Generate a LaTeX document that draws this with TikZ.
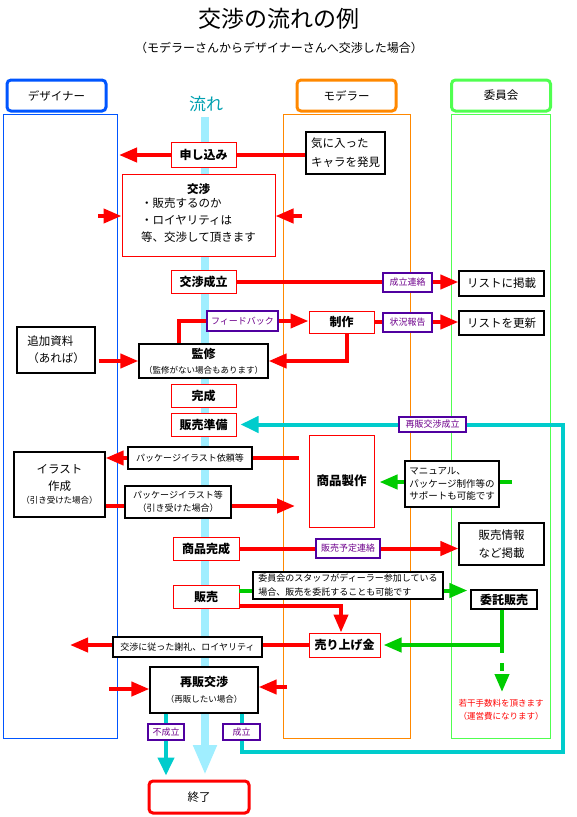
\documentclass[tikz,border=0pt]{standalone}
\usepackage{fontspec}
\setmainfont{Noto Sans CJK JP}
\usetikzlibrary{arrows.meta}
\definecolor{myred}{RGB}{255,0,0}
\definecolor{mygreen}{RGB}{0,204,0}
\definecolor{mycyan}{RGB}{0,204,204}
\definecolor{flowcyan}{RGB}{160,238,255}
\definecolor{flowtext}{RGB}{0,160,176}
\definecolor{laneblue}{RGB}{0,85,255}
\definecolor{laneorange}{RGB}{255,136,0}
\definecolor{lanegreen}{RGB}{80,255,80}
\definecolor{lblborder}{RGB}{80,0,160}
\definecolor{lbltext}{RGB}{110,0,140}
\begin{document}
\begin{tikzpicture}[x=1pt, y=-1pt,
  sz/.style 2 args={minimum width=#1pt, minimum height=#2pt},
  redbox/.style={draw=myred, line width=1pt, fill=white, inner sep=1pt, align=center, font=\fontsize{12}{15}\selectfont\bfseries},
  blackbox/.style={draw=black, line width=1.2pt, fill=white, inner sep=1pt, font=\fontsize{11.5}{17}\selectfont},
  lblbox/.style={draw=lblborder, line width=1.2pt, fill=white, inner sep=1pt, text=lbltext, font=\fontsize{9}{11}\selectfont},
  notebox/.style={draw=black, line width=1.2pt, fill=white, inner sep=1pt, font=\fontsize{9}{13}\selectfont},
  header/.style={line width=3pt, rounded corners=4pt, sz={99}{31}, font=\fontsize{11.5}{14}\selectfont},
  lane/.style={line width=1pt},
  redline/.style={draw=myred, line width=4pt},
  redarrow/.style={redline, -{Triangle[length=18pt,width=14pt]}},
  greenline/.style={draw=mygreen, line width=4pt},
  greenarrow/.style={greenline, -{Triangle[length=18pt,width=14pt]}},
  cyanline/.style={draw=mycyan, line width=4pt},
  cyanarrow/.style={cyanline, -{Triangle[length=18pt,width=16pt]}},
  flowbar/.style={draw=flowcyan, line width=8pt, -{Triangle[length=30pt,width=22pt]}}]
\useasboundingbox (0,0) rectangle (576,817);

\node[font=\fontsize{23}{25}\selectfont] (title) at (279,19) {交渉の流れの例};
\node[font=\fontsize{12}{14}\selectfont] (subtitle) at (279,48) {（モデラーさんからデザイナーさんへ交渉した場合）};

\node[header, draw=laneblue] (hdes) at (56.5,95.5) {デザイナー};
\node[header, draw=laneorange] (hmod) at (346.5,95.5) {モデラー};
\node[header, draw=lanegreen] (hiin) at (501,95.5) {委員会};
\node[text=flowtext, font=\fontsize{17}{19}\selectfont] (flowlbl) at (206,104) {流れ};

\draw[lane, draw=laneblue] (3,114) rectangle (117,738);
\draw[lane, draw=laneorange] (283,114) rectangle (410,738);
\draw[lane, draw=lanegreen] (451,114) rectangle (550,738);

\coordinate (flowTop) at (205,117);
\coordinate (flowEnd) at (205,775);
\draw[flowbar] (flowTop) -- (flowEnd);

\node[redbox, sz={65}{25}] (moushikomi) at (203.5,155) {申し込み};
\node[blackbox, sz={79}{42}, align=left, font=\fontsize{11.5}{19}\selectfont] (kiniitta) at (345.5,153) {気に入った\\キャラを発見};
\node[redbox, sz={153}{82}, font=\fontsize{11.5}{17}\selectfont] (koushou) at (198.5,215)
  {{\bfseries 交渉}\\\begin{tabular}{@{}l@{}}・販売するのか\\・ロイヤリティは\\等、交渉して頂きます\end{tabular}};
\node[redbox, sz={65}{23}] (seiritsu) at (203.5,282) {交渉成立};
\node[lblbox, sz={49}{19}] (lblSeiritsu) at (407.5,282.5) {成立連絡};
\node[blackbox, sz={85}{25}] (listKeisai) at (501.5,283.5) {リストに掲載};
\node[lblbox, sz={71}{20}] (lblFeedback) at (242.5,321) {フィードバック};
\node[redbox, sz={65}{22}] (seisaku) at (341.5,322) {制作};
\node[lblbox, sz={49}{19}] (lblJoukyou) at (407.5,322.5) {状況報告};
\node[blackbox, sz={85}{24}] (listKoushin) at (501.5,323) {リストを更新};
\node[blackbox, sz={129}{34}, align=center, font=\fontsize{8.5}{15}\selectfont] (kanshu) at (203.5,361)
  {{\fontsize{12}{15}\selectfont\bfseries 監修}\\（監修がない場合もあります）};
\node[blackbox, sz={78}{46}, align=left] (tsuika) at (56,350) {追加資料\\（あれば）};
\node[redbox, sz={65}{23}] (kansei) at (203.5,395.5) {完成};
\node[redbox, sz={65}{23}] (junbi) at (203.5,424.5) {販売準備};
\node[lblbox, sz={67}{15}] (lblSaihan) at (432.5,424.5) {再販交渉成立};
\node[notebox, sz={124}{22}] (lblIrai) at (190,458) {パッケージイラスト依頼等};
\node[blackbox, sz={91}{65}, align=center] (illust) at (59.5,484.5)
  {イラスト\\作成\\[-4pt]{\fontsize{8.5}{10}\selectfont （引き受けた場合）}};
\node[notebox, sz={106}{32}, align=center] (lblPkg) at (178,502) {パッケージイラスト等\\（引き受けた場合）};
\node[redbox, sz={65}{92}, font=\fontsize{12.5}{15}\selectfont\bfseries] (seihin) at (341.5,481) {商品製作};
\coordinate (gm) at (512,482);
\draw[greenarrow, shorten >=5pt] (gm) -- (seihin.east |- gm);
\node[notebox, sz={94}{46}, align=left, font=\fontsize{9.5}{12.5}\selectfont] (manual) at (452,484)
  {マニュアル、\\パッケージ制作等の\\サポートも可能です};
\node[redbox, sz={66}{23}] (hinkansei) at (206,548.5) {商品完成};
\node[lblbox, sz={64}{19}] (lblYotei) at (348,548.5) {販売予定連絡};
\node[blackbox, sz={85}{42}, align=center, font=\fontsize{11.5}{18}\selectfont] (hanbaiJouhou) at (501.5,544) {販売情報\\など掲載};
\node[redbox, sz={66}{23}] (hanbai) at (206,596.5) {販売};
\node[notebox, sz={190}{27}, align=left, font=\fontsize{9}{14}\selectfont] (staff) at (348,585.5)
  {委員会のスタッフがディーラー参加している\\場合、販売を委託することも可能です};
\node[blackbox, sz={66}{19}, font=\fontsize{12}{15}\selectfont\bfseries] (itaku) at (504,599.5) {委託販売};
\node[redbox, sz={71}{24}] (uriage) at (344.5,645) {売り上げ金};
\node[notebox, sz={149}{20}] (lblSharei) at (187.5,647) {交渉に従った謝礼、ロイヤリティ};
\node[blackbox, sz={108}{46}, align=center, font=\fontsize{8.5}{16}\selectfont] (saihan) at (204,690)
  {{\fontsize{12}{15}\selectfont\bfseries 再販交渉}\\（再販したい場合）};
\node[lblbox, sz={36}{16}] (lblFuseiritsu) at (166,732) {不成立};
\node[lblbox, sz={37}{16}] (lblSeiritsu2) at (241.5,732) {成立};
\node[draw=myred, line width=3pt, rounded corners=4pt, sz={100}{32}, font=\fontsize{11.5}{14}\selectfont] (shuryo) at (199,797) {終了};
\node[text=myred, align=center, font=\fontsize{8.5}{13}\selectfont] (fee) at (501,710) {若干手数料を頂きます\\（運営費になります）};

\draw[redline] (kiniitta.west |- moushikomi.east) -- (moushikomi.east);
\coordinate (mTip) at (119,155);
\draw[redarrow] (moushikomi.west) -- (mTip);
\coordinate (inL) at (98,216);
\coordinate (inR) at (302,216);
\draw[redarrow] (inL) -- (koushou.west |- inL);
\draw[redarrow] (inR) -- (koushou.east |- inR);
\draw[redline] (seiritsu.east) -- (lblSeiritsu.west |- seiritsu.east);
\draw[redarrow] (lblSeiritsu.east |- seiritsu.east) -- (listKeisai.west |- seiritsu.east);
\draw[redline] ([xshift=-24.5pt]kanshu.north) |- (lblFeedback.west);
\draw[redarrow] (lblFeedback.east) -- (seisaku.west |- lblFeedback.east);
\draw[redline] (seisaku.east) -- (lblJoukyou.west |- seisaku.east);
\draw[redarrow] (lblJoukyou.east |- seisaku.east) -- (listKoushin.west |- seisaku.east);
\draw[redarrow] ([xshift=5.5pt]seisaku.south) |- (kanshu.east);
\draw[redarrow] ([xshift=3pt]tsuika.east |- kanshu.west) -- (kanshu.west);

\coordinate (cBR) at (563,752);
\coordinate (cTR) at (563,424.5);
\draw[cyanline] (saihan.south -| lblSeiritsu2) -- (lblSeiritsu2.north);
\draw[cyanline] (lblSeiritsu2.south) |- (cBR) -- (cTR) -- (lblSaihan.east |- cTR);
\draw[cyanarrow, shorten >=4pt] (lblSaihan.west |- cTR) -- (junbi.east |- cTR);
\draw[cyanline] (saihan.south -| lblFuseiritsu) -- (lblFuseiritsu.north);
\draw[cyanarrow, shorten >=4pt] (lblFuseiritsu.south) -- (shuryo.north -| lblFuseiritsu.south);

\coordinate (iraiR) at (299,458);
\draw[redline] (iraiR) -- (lblIrai.east);
\draw[redarrow] (lblIrai.west) -- (illust.east |- lblIrai.west);
\coordinate (pk) at (178,506);
\coordinate (pkTip) at (295,506);
\draw[redline] (illust.east |- pk) -- (lblPkg.west |- pk);
\draw[redarrow] (lblPkg.east |- pk) -- (pkTip);

\draw[redline] (hinkansei.east) -- (lblYotei.west |- hinkansei.east);
\draw[redarrow] (lblYotei.east |- hinkansei.east) -- (hanbaiJouhou.west |- hinkansei.east);

\coordinate (g1) at (239,590.5);
\draw[greenline] (g1) -- (staff.west |- g1);
\draw[greenarrow, shorten >=3pt] (staff.east |- g1) -- (itaku.west |- g1);
\draw[redarrow] ([yshift=-9.5pt]hanbai.east) -| ([xshift=-3.5pt]uriage.north);
\coordinate (gj) at (502,645);
\coordinate (gTip) at (502,692);
\draw[greenarrow, shorten >=3pt] ([xshift=-2pt]itaku.south) |- (uriage.east);
\draw[greenarrow, dash pattern=on 8pt off 10pt] (gj) -- (gTip);

\draw[redline] (uriage.west) -- (lblSharei.east |- uriage.west);
\coordinate (shTip) at (70,645);
\draw[redarrow] (lblSharei.west |- uriage.west) -- (shTip);
\coordinate (sL) at (109,689);
\coordinate (sR) at (287,687);
\draw[redarrow] (sL) -- (saihan.west |- sL);
\draw[redarrow] (sR) -- (saihan.east |- sR);
\end{tikzpicture}
\end{document}
